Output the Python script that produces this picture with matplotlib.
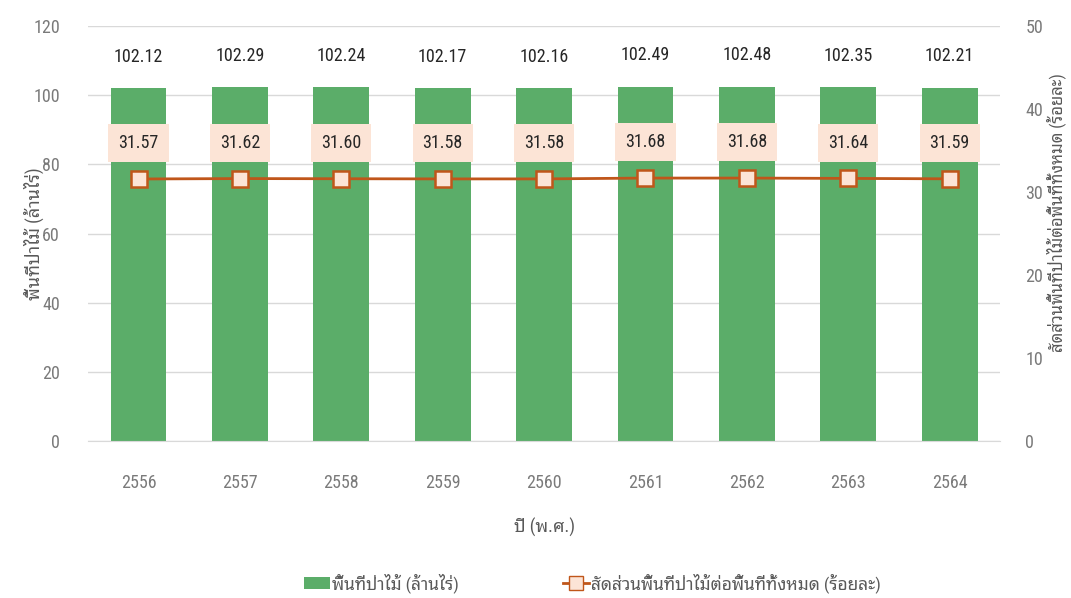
import numpy as np
import matplotlib
matplotlib.use("Agg")
from matplotlib import pyplot as plt
from matplotlib.lines import Line2D
from matplotlib.patches import Patch

years = ['2556', '2557', '2558', '2559', '2560', '2561', '2562', '2563', '2564']
forest_area = [102.12, 102.29, 102.24, 102.17, 102.16, 102.49, 102.48, 102.35, 102.21]
forest_ratio = [31.57, 31.62, 31.60, 31.58, 31.58, 31.68, 31.68, 31.64, 31.59]

bar_label = 'พื้นที่ป่าไม้ (ล้านไร่)'
line_label = 'สัดส่วนพื้นที่ป่าไม้ต่อพื้นที่ทั้งหมด (ร้อยละ)'

plt.rcParams['font.family'] = ['Roboto Condensed', 'Noto Sans Thai Looped', 'DejaVu Sans']

green = '#5bad69'
brown = '#c0561a'
peach = '#fce4d6'
grey = '#595959'
tick_grey = '#7a7a7a'

fig = plt.figure(figsize=(10.71, 5.98), dpi=100)
ax = fig.add_axes([0.082, 0.2625, 0.852, 0.694])
ax2 = ax.twinx()

x = np.arange(len(years))
ax.bar(x, forest_area, width=0.55, color=green, zorder=2)
for xi, v in zip(x, forest_area):
    ax.text(xi, v + 9, f'{v:.2f}', ha='center', va='center', fontsize=13, color='#262626')

ax.set_ylim(0, 120)
ax.set_yticks(range(0, 121, 20))
ax.set_xlim(-0.5, len(years) - 0.5)
ax.set_xticks(x)
ax.set_xticklabels(years)
ax.grid(axis='y', color='#d9d9d9', linewidth=1, zorder=0)
ax.set_axisbelow(True)
for s in ax.spines.values():
    s.set_visible(False)
ax.spines['bottom'].set_visible(True)
ax.spines['bottom'].set_color('#d9d9d9')
ax.tick_params(axis='both', length=0, labelsize=13, colors=tick_grey)
ax.tick_params(axis='x', pad=24)
ax.tick_params(axis='y', pad=20)
ax.set_xlabel('ปี (พ.ศ.)', fontsize=13, color=grey, labelpad=18)
ax.set_ylabel(bar_label, fontsize=13, color=grey)
ax.yaxis.set_label_coords(-0.048, 0.5)

ax2.plot(x, forest_ratio, color=brown, linewidth=2, marker='s', markersize=12,
         markerfacecolor=peach, markeredgecolor=brown, markeredgewidth=1.8, zorder=3)
for xi, v in zip(x, forest_ratio):
    ax2.text(xi, v + 4.3, f'{v:.2f}', ha='center', va='center', fontsize=13, color='#262626',
             bbox=dict(boxstyle='square,pad=0.55', facecolor=peach, edgecolor='none'))
ax2.set_ylim(0, 50)
ax2.set_yticks(range(0, 51, 10))
for s in ax2.spines.values():
    s.set_visible(False)
ax2.tick_params(axis='y', length=0, labelsize=13, colors=tick_grey, pad=18)
ax2.set_ylabel(line_label, fontsize=12, color=grey, rotation=90)
ax2.yaxis.set_label_coords(1.05, 0.55)

handles = [Patch(facecolor=green, edgecolor='none'),
           Line2D([0], [0], color=brown, linewidth=2, marker='s', markersize=10,
                  markerfacecolor=peach, markeredgecolor=brown)]
fig.legend(handles, [bar_label, line_label], loc='center', bbox_to_anchor=(0.553, 0.025),
           ncol=2, frameon=False, fontsize=12.5, columnspacing=6, handlelength=1.5,
           handletextpad=0.1, labelcolor=grey)

fig.savefig('out.png', dpi=100)
